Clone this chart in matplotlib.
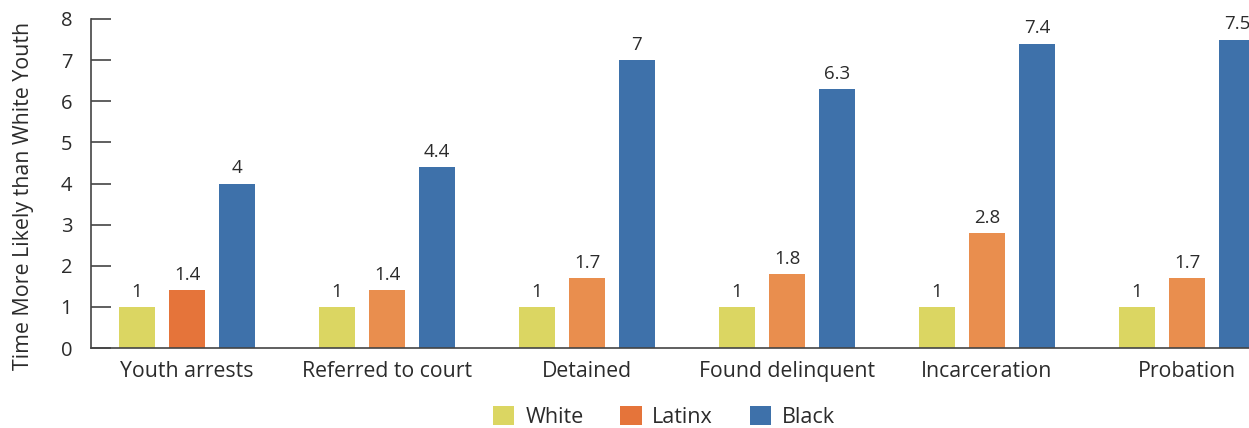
import matplotlib
matplotlib.use("Agg")
import matplotlib.pyplot as plt
from matplotlib.patches import Patch
import numpy as np

categories = ["Youth arrests", "Referred to court", "Detained",
              "Found delinquent", "Incarceration", "Probation"]
series = ["White", "Latinx", "Black"]
white = [1, 1, 1, 1, 1, 1]
latinx = [1.4, 1.4, 1.7, 1.8, 2.8, 1.7]
black = [4, 4.4, 7, 6.3, 7.4, 7.5]
value_labels = {
    "White": ["1", "1", "1", "1", "1", "1"],
    "Latinx": ["1.4", "1.4", "1.7", "1.8", "2.8", "1.7"],
    "Black": ["4", "4.4", "7", "6.3", "7.4", "7.5"],
}
yticks = [0, 1, 2, 3, 4, 5, 6, 7, 8]
ytick_labels = ["0", "1", "2", "3", "4", "5", "6", "7", "8"]

c_white = "#DBD662"
c_latinx_dark = "#E5743A"
c_latinx = "#E98E4E"
c_black = "#3E71AA"
latinx_colors = [c_latinx_dark, c_latinx, c_latinx, c_latinx, c_latinx, c_latinx]

text_color = "#2b2b2b"
plt.rcParams['font.family'] = ['Open Sans', 'DejaVu Sans']

W, H = 1249, 428
fig = plt.figure(figsize=(W / 100, H / 100), dpi=100)
left_px, right_px = 91, 1249
bottom_px, top_px = 348, 19
ax = fig.add_axes([left_px / W, (H - bottom_px) / H,
                   (right_px - left_px) / W, (bottom_px - top_px) / H])

x = np.arange(len(categories))
step = 0.25
width = 0.18
data = [white, latinx, black]
colors = [[c_white] * 6, latinx_colors, [c_black] * 6]
for k, (name, vals, cols) in enumerate(zip(series, data, colors)):
    xs = x + (k - 1) * step
    bars = ax.bar(xs, vals, width=width, color=cols, zorder=2)
    for b, lab in zip(bars, value_labels[name]):
        ax.annotate(lab, (b.get_x() + b.get_width() / 2, b.get_height()),
                    xytext=(0, 4.5), textcoords="offset points",
                    ha="center", va="bottom", fontsize=13.5, color=text_color)

ax.set_xlim((left_px - 187) / 200, (right_px - 187) / 200)
ax.set_ylim(0, 8)
ax.set_yticks(yticks)
ax.set_yticklabels(ytick_labels)
ax.set_xticks(x)
ax.set_xticklabels(categories)
ax.tick_params(axis="y", direction="in", length=14.5, width=1.2,
               color="#444444", pad=13.5, labelsize=14.5, labelcolor=text_color)
ax.tick_params(axis="x", length=0, pad=9.5, labelsize=15.3, labelcolor=text_color)
for s in ["top", "right"]:
    ax.spines[s].set_visible(False)
for s in ["left", "bottom"]:
    ax.spines[s].set_color("#444444")
    ax.spines[s].set_linewidth(1.2)
ax.set_ylabel("Time More Likely than White Youth", fontsize=15.4,
              color=text_color, va="center")
ax.yaxis.set_label_coords(-(91 - 23.5) / (right_px - left_px),
                          (bottom_px - 196) / (bottom_px - top_px))

handles = [Patch(facecolor=c, edgecolor="none") for c in [c_white, c_latinx_dark, c_black]]
fig.legend(handles, series, loc="center", bbox_to_anchor=(664 / W, 11 / H),
           ncol=3, frameon=False, fontsize=15.5, handlelength=1.0,
           handleheight=1.0, handletextpad=0.5, columnspacing=1.7,
           labelcolor=text_color, borderaxespad=0, borderpad=0)

fig.savefig("out.png", dpi=100)
